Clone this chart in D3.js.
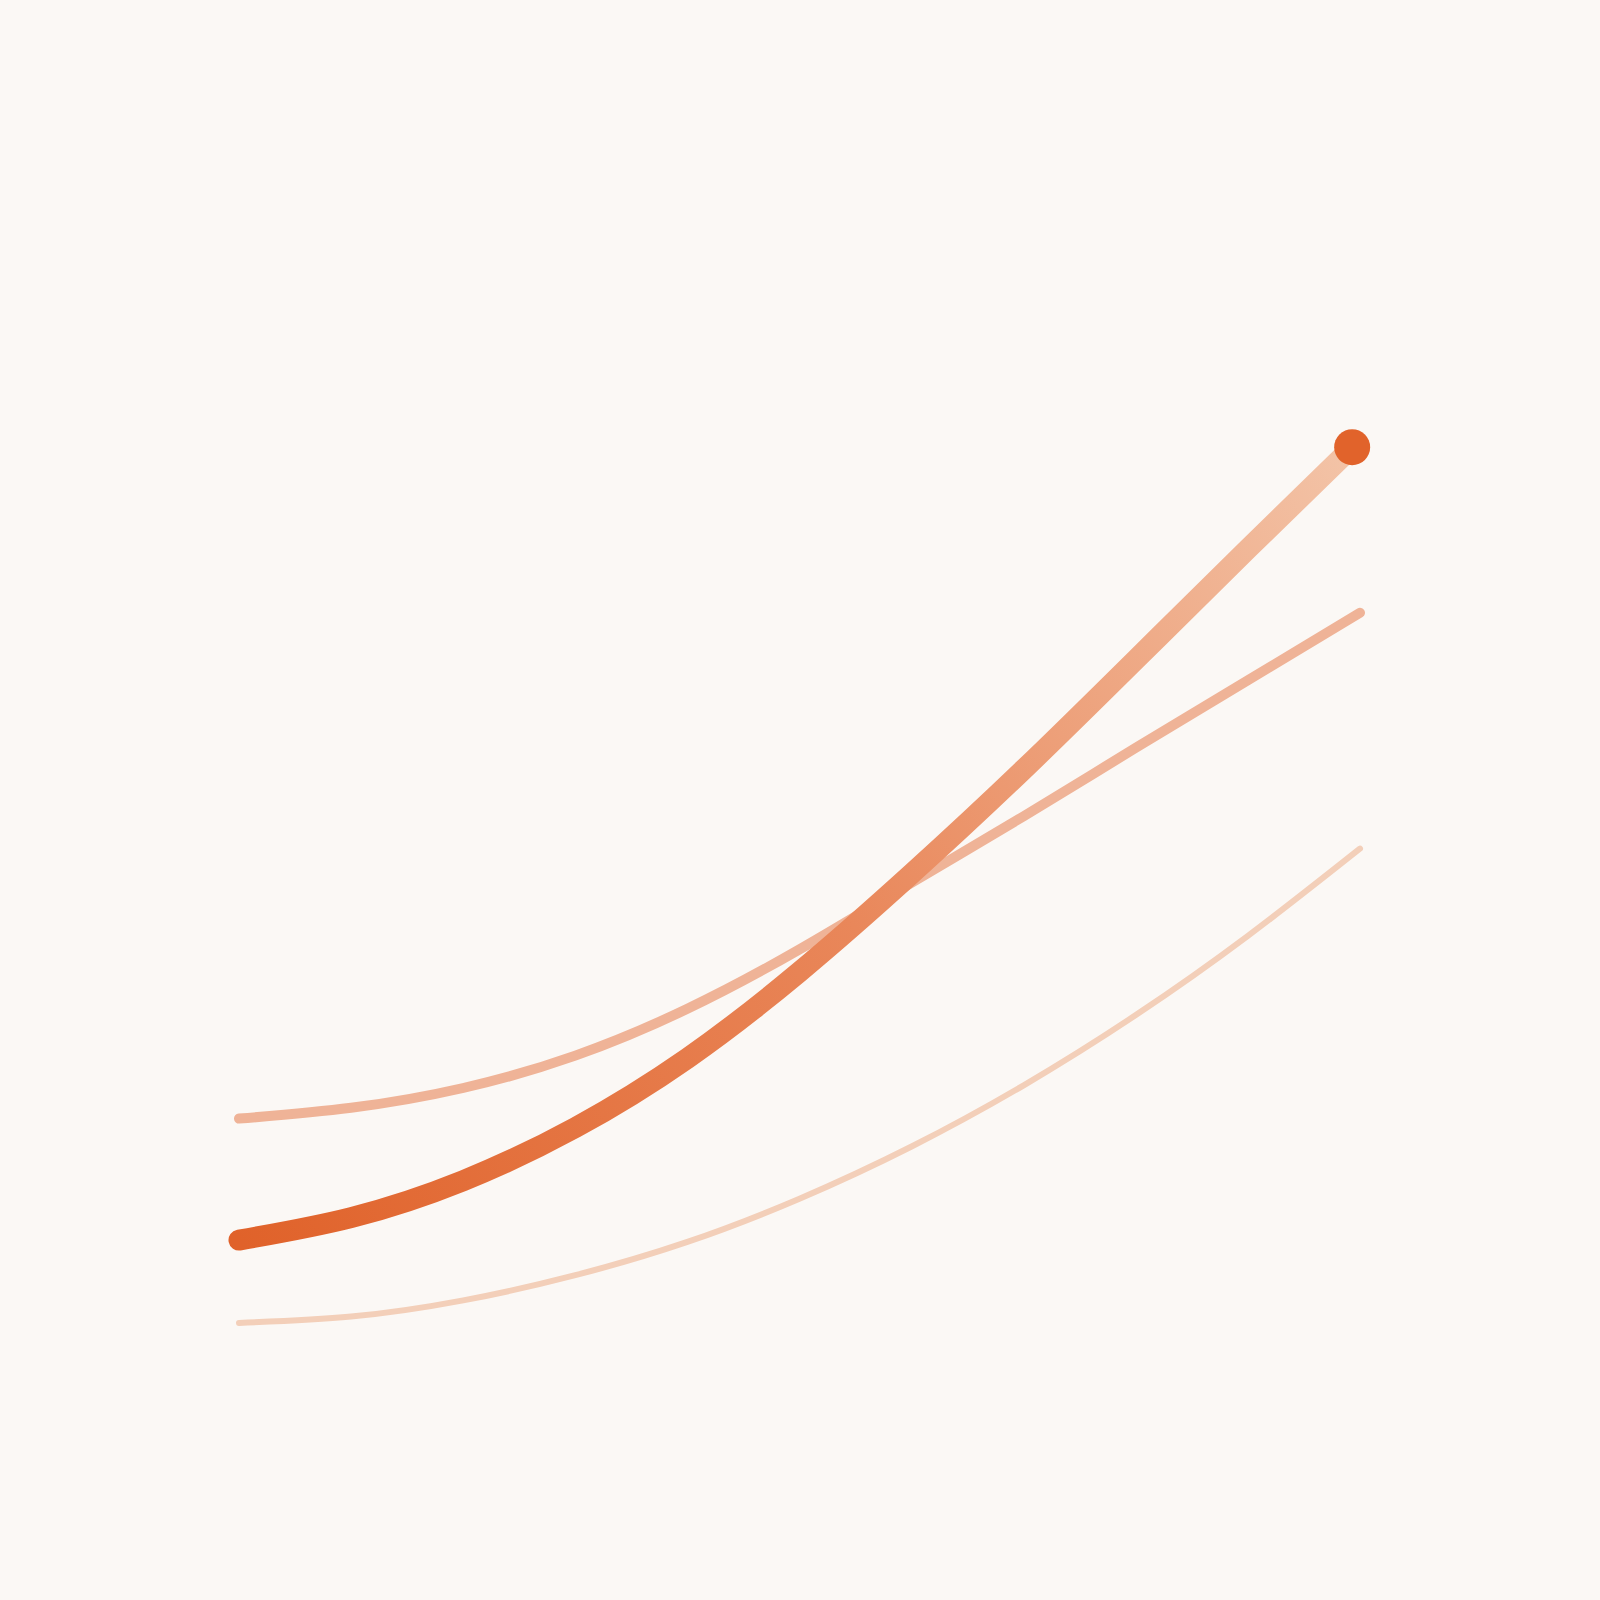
<!DOCTYPE html>
<html>
<head>
<meta charset="utf-8">
<script src="https://cdn.jsdelivr.net/npm/d3@7"></script>
<style>
  html, body { margin: 0; padding: 0; background: #fbf8f5; }
  svg { display: block; }
</style>
</head>
<body>
<div id="chart"></div>
<script>
// values, x is a step index, y in arbitrary units
const steps = [0, 1, 2, 3, 4, 5, 6, 7, 8, 9, 10];
const mainSteps = [0, 1, 2, 3, 4, 5, 6, 7, 8, 9, 9.93];
const mainSeries = [11.1, 13.6, 17.7, 23.6, 31.3, 40.9, 51.8, 63.4, 75.6, 87.9, 99.2];
const midSeries = [24.6, 25.8, 28.0, 31.6, 36.8, 43.4, 50.8, 58.2, 65.8, 73.3, 80.8];
const lowSeries = [1.9, 2.6, 4.4, 7.2, 10.9, 15.7, 21.5, 28.3, 36.1, 44.9, 54.6];

const config = {
  'width': 1600,
  'height': 1600,
  'margins': {
    'top': 440,
    'right': 240,
    'bottom': 260,
    'left': 239
  }
}

const svg = d3.select('#chart').append('svg')
  .attr('width', config.width)
  .attr('height', config.height)
  .attr('viewBox', [0, 0, config.width, config.height]);

svg.append('rect')
  .attr('width', config.width)
  .attr('height', config.height)
  .attr('fill', '#fbf8f5');

const x = d3.scaleLinear()
  .domain([0, 10])
  .range([config.margins.left, config.width - config.margins.right]);

const y = d3.scaleLinear()
  .domain([0, 100])
  .range([config.height - config.margins.bottom, config.margins.top]);

const line = d3.line()
  .x(d => x(d[0]))
  .y(d => y(d[1]))
  .curve(d3.curveNatural);

const toPoints = (xs, vals) => xs.map((s, i) => [s, vals[i]]);

const last = mainSteps.length - 1;

// gradient along the main line, dark at start, pale at the end
const grad = svg.append('defs').append('linearGradient')
  .attr('id', 'mainGrad')
  .attr('gradientUnits', 'userSpaceOnUse')
  .attr('x1', x(mainSteps[0]))
  .attr('y1', y(mainSeries[0]))
  .attr('x2', x(mainSteps[last]))
  .attr('y2', y(mainSeries[last]));

grad.append('stop').attr('offset', '0%').attr('stop-color', '#e0622a');
grad.append('stop').attr('offset', '50%').attr('stop-color', '#e9875a');
grad.append('stop').attr('offset', '100%').attr('stop-color', '#f3c4a8');

svg.append('path')
  .datum(toPoints(steps, lowSeries))
  .attr('d', line)
  .attr('fill', 'none')
  .attr('stroke', '#f3cfb9')
  .attr('stroke-width', 6)
  .attr('stroke-linecap', 'round');

svg.append('path')
  .datum(toPoints(steps, midSeries))
  .attr('d', line)
  .attr('fill', 'none')
  .attr('stroke', '#efb397')
  .attr('stroke-width', 10)
  .attr('stroke-linecap', 'round');

svg.append('path')
  .datum(toPoints(mainSteps, mainSeries))
  .attr('d', line)
  .attr('fill', 'none')
  .attr('stroke', 'url(#mainGrad)')
  .attr('stroke-width', 21)
  .attr('stroke-linecap', 'round');

svg.append('circle')
  .attr('cx', x(mainSteps[last]))
  .attr('cy', y(mainSeries[last]))
  .attr('r', 18)
  .attr('fill', '#e1632b');
</script>
</body>
</html>
